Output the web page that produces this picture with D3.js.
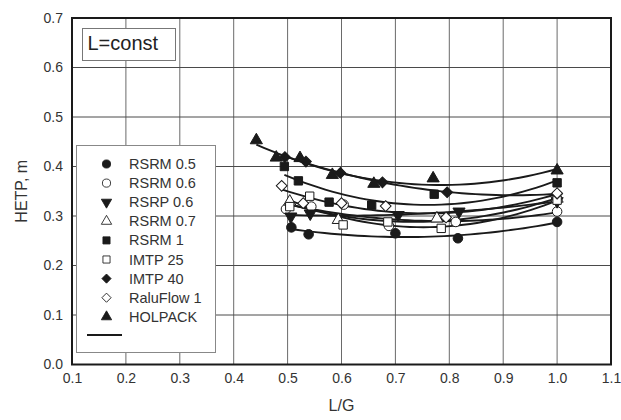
<!DOCTYPE html>
<html><head><meta charset="utf-8">
<script src="https://cdn.jsdelivr.net/npm/d3@7"></script>
<style>body{margin:0;background:#fff}svg{display:block;font-family:"Liberation Sans",Arial,sans-serif}</style>
</head><body><svg id="c" width="621" height="420"></svg>
<script>
const seriesNames = ["RSRM 0.5","RSRM 0.6","RSRP 0.6","RSRM 0.7","RSRM 1","IMTP 25","IMTP 40","RaluFlow 1","HOLPACK"];
const xRSRM05 = [0.507,0.539,0.700,0.816,1.0];
const yRSRM05 = [0.277,0.263,0.265,0.255,0.288];
const xRSRM06 = [0.497,0.544,0.604,0.688,0.812,1.0];
const yRSRM06 = [0.314,0.319,0.323,0.280,0.288,0.309];
const xRSRP06 = [0.506,0.542,0.705,0.818,1.0];
const yRSRP06 = [0.299,0.305,0.302,0.309,0.330];
const xRSRM07 = [0.504,0.594,0.777,1.0];
const yRSRM07 = [0.329,0.292,0.295,0.335];
const xRSRM1 = [0.494,0.520,0.577,0.656,0.772,1.0];
const yRSRM1 = [0.400,0.371,0.328,0.322,0.344,0.367];
const xIMTP25 = [0.504,0.541,0.603,0.686,0.785,1.0];
const yIMTP25 = [0.319,0.340,0.282,0.288,0.275,0.332];
const xIMTP40 = [0.495,0.534,0.598,0.676,0.796,1.0];
const yIMTP40 = [0.419,0.410,0.387,0.368,0.348,0.345];
const xRalu = [0.489,0.529,0.600,0.682,0.794,1.0];
const yRalu = [0.361,0.326,0.326,0.320,0.297,0.346];
const xHOL = [0.442,0.479,0.523,0.583,0.660,0.770,1.0];
const yHOL = [0.453,0.418,0.417,0.383,0.365,0.376,0.392];
const xTicks = [0.1,0.2,0.3,0.4,0.5,0.6,0.7,0.8,0.9,1.0,1.1];
const yTicks = [0.0,0.1,0.2,0.3,0.4,0.5,0.6,0.7];

const xs = [xRSRM05,xRSRM06,xRSRP06,xRSRM07,xRSRM1,xIMTP25,xIMTP40,xRalu,xHOL];
const ys = [yRSRM05,yRSRM06,yRSRP06,yRSRM07,yRSRM1,yIMTP25,yIMTP40,yRalu,yHOL];
const shapes = ["circle","circle","tri-down","tri","square","square","diamond","diamond","tri"];
const filled = [true,false,true,false,true,false,true,false,true];

const svg = d3.select("#c");
const L=72, R=611, T=18, B=364.5;
const x = d3.scaleLinear().domain([0.1,1.1]).range([L,R]);
const y = d3.scaleLinear().domain([0,0.7]).range([B,T]);
const ink="#1a1a1a", txt="#333";
const ff="Liberation Sans, Arial, sans-serif";

// grid
svg.append("g").selectAll("line").data(xTicks.slice(1,-1)).join("line")
  .attr("x1",d=>x(d)).attr("x2",d=>x(d)).attr("y1",T).attr("y2",B)
  .attr("stroke","#6a6a6a").attr("stroke-width",1);
svg.append("g").selectAll("line").data(yTicks.slice(1,-1)).join("line")
  .attr("y1",d=>y(d)).attr("y2",d=>y(d)).attr("x1",L).attr("x2",R)
  .attr("stroke","#4a4a4a").attr("stroke-width",1);
svg.append("rect").attr("x",L).attr("y",T).attr("width",R-L).attr("height",B-T)
  .attr("fill","none").attr("stroke",ink).attr("stroke-width",2);

// axes labels
const xa = svg.append("g").attr("transform",`translate(0,${B})`)
  .call(d3.axisBottom(x).tickValues(xTicks).tickFormat(d3.format(".1f")).tickSize(0).tickPadding(9));
xa.select(".domain").remove();
xa.selectAll("text").attr("font-size",14).attr("fill",txt).attr("font-family",ff);
const ya = svg.append("g").attr("transform",`translate(${L},0)`)
  .call(d3.axisLeft(y).tickValues(yTicks).tickFormat(d3.format(".1f")).tickSize(0).tickPadding(9));
ya.select(".domain").remove();
ya.selectAll("text").attr("font-size",14).attr("fill",txt).attr("font-family",ff);

svg.append("text").attr("x",(L+R)/2).attr("y",411).attr("text-anchor","middle")
  .attr("font-size",16).attr("fill",txt).text("L/G");
svg.append("text").attr("transform",`translate(27,${(T+B)/2}) rotate(-90)`).attr("text-anchor","middle")
  .attr("font-size",16).attr("fill",txt).text("HETP, m");

// L=const box
svg.append("rect").attr("x",82.5).attr("y",28.5).attr("width",93).attr("height",32)
  .attr("fill","#fff").attr("stroke","#777").attr("stroke-width",1);
svg.append("text").attr("x",87.5).attr("y",50).attr("font-size",20).attr("fill","#222").text("L=const");

// quadratic fit
function quadFit(xv,yv){
  let S=[0,0,0,0,0],T2=[0,0,0];
  xv.forEach((xi,i)=>{let p=1;for(let k=0;k<5;k++){S[k]+=p;if(k<3)T2[k]+=p*yv[i];p*=xi;}});
  const A=[[S[0],S[1],S[2],T2[0]],[S[1],S[2],S[3],T2[1]],[S[2],S[3],S[4],T2[2]]];
  for(let i=0;i<3;i++){for(let j=i+1;j<3;j++){const f=A[j][i]/A[i][i];for(let k=i;k<4;k++)A[j][k]-=f*A[i][k];}}
  const c=[0,0,0];
  for(let i=2;i>=0;i--){let s=A[i][3];for(let k=i+1;k<3;k++)s-=A[i][k]*c[k];c[i]=s/A[i][i];}
  return c;
}
const line = d3.line().x(d=>x(d[0])).y(d=>y(d[1])).curve(d3.curveLinear);
const gl = svg.append("g");
xs.forEach((xv,i)=>{
  const c=quadFit(xv,ys[i]);
  const lo=d3.min(xv), hi=d3.max(xv);
  const pts=d3.range(0,41).map(k=>{const t=lo+(hi-lo)*k/40;return [t,c[0]+c[1]*t+c[2]*t*t];});
  gl.append("path").attr("d",line(pts)).attr("fill","none").attr("stroke",ink).attr("stroke-width",1.9);
});

// markers
function symPath(s){
  if(s==="circle") return d3.symbol(d3.symbolCircle,72)();
  if(s==="square") return d3.symbol(d3.symbolSquare,70)();
  if(s==="diamond") return d3.symbol(d3.symbolSquare,58)();
  return d3.symbol(d3.symbolTriangle,64)();
}
function rot(s){return s==="tri-down"?" rotate(180)":(s==="diamond"?" rotate(45)":"");}
const gm = svg.append("g");
xs.forEach((xv,i)=>{
  gm.append("g").selectAll("path").data(xv.map((xi,j)=>[xi,ys[i][j]])).join("path")
    .attr("d",symPath(shapes[i]))
    .attr("transform",d=>`translate(${x(d[0])},${y(d[1])})${rot(shapes[i])}`)
    .attr("fill",filled[i]?ink:"#fff").attr("stroke",ink).attr("stroke-width",1);
});

// legend
svg.append("rect").attr("x",76.5).attr("y",145.5).attr("width",139).attr("height",207)
  .attr("fill","#fff").attr("stroke","#888").attr("stroke-width",1);
const lg = svg.append("g");
seriesNames.forEach((n,i)=>{
  const ly=164+i*19.1;
  lg.append("path").attr("d",symPath(shapes[i]))
    .attr("transform",`translate(106.5,${ly}) scale(0.85)${rot(shapes[i])}`)
    .attr("fill",filled[i]?ink:"#fff").attr("stroke",ink).attr("stroke-width",1);
  lg.append("text").attr("x",129).attr("y",ly+5).attr("font-size",14.5).attr("fill",txt).text(n);
});
lg.append("line").attr("x1",87).attr("x2",122).attr("y1",335).attr("y2",335).attr("stroke",ink).attr("stroke-width",1.9);
</script></body></html>
